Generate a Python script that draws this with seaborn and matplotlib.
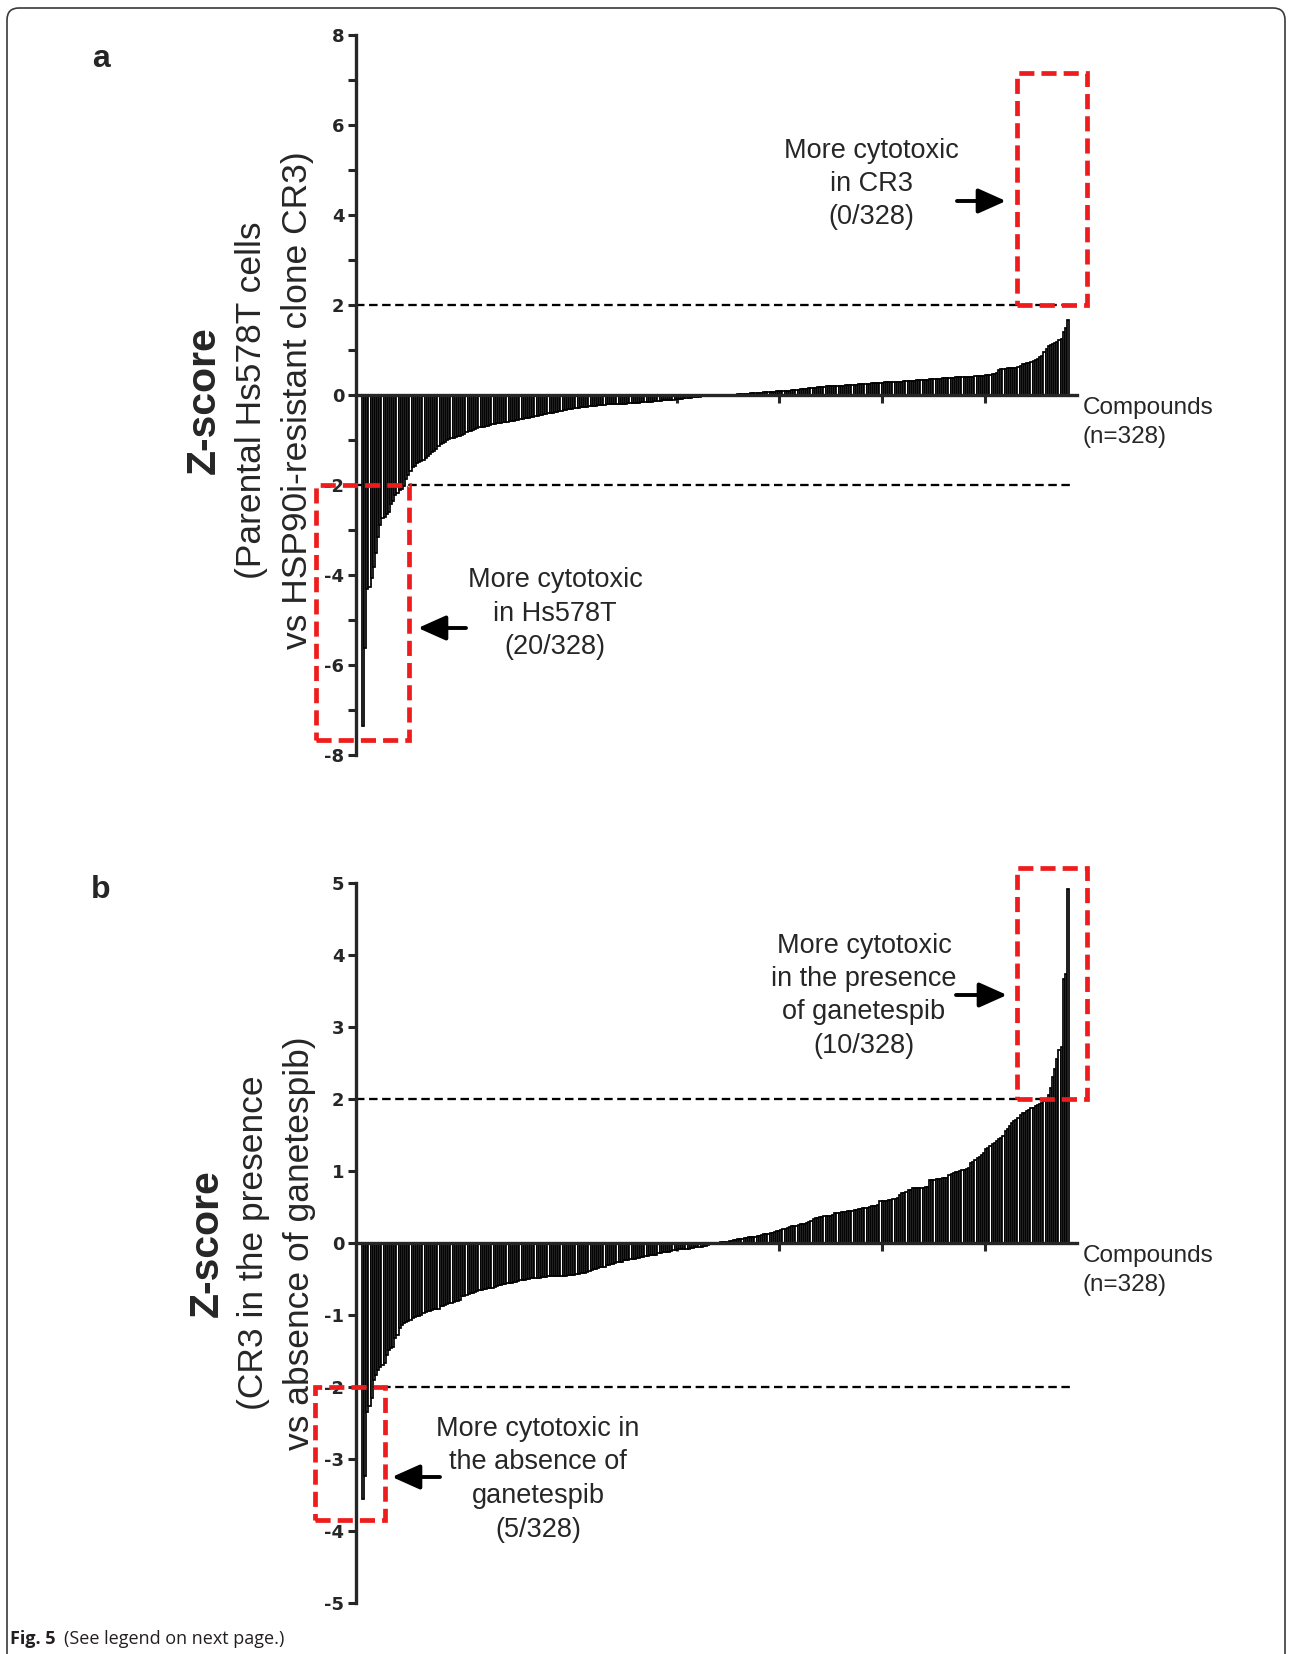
import matplotlib.pyplot as plt
import seaborn as sns
import numpy as np
import pandas as pd
from matplotlib.patches import Rectangle, FancyBboxPatch

sns.set_style('ticks')
plt.rcParams['font.family'] = ['Liberation Sans', 'DejaVu Sans']
plt.rcParams['axes.unicode_minus'] = False

# compounds ranked by z-score (n=328)
compound_rank = list(range(1, 329))

# a: parental Hs578T vs HSP90i-resistant clone CR3 (sorted)
z_parental_cr3 = [
    -7.36, -5.62, -4.31, -4.26, -4.07, -3.82, -3.52, -3.15, -2.89, -2.74,
    -2.71, -2.64, -2.61, -2.42, -2.35, -2.22, -2.18, -2.12, -2.08, -2.03,
    -1.86, -1.78, -1.68, -1.61, -1.57, -1.52, -1.49, -1.47, -1.44, -1.39,
    -1.35, -1.30, -1.27, -1.24, -1.19, -1.13, -1.09, -1.06, -1.04, -1.00,
    -0.98, -0.96, -0.95, -0.93, -0.91, -0.90, -0.88, -0.86, -0.83, -0.80,
    -0.79, -0.77, -0.76, -0.74, -0.72, -0.71, -0.70, -0.69, -0.68, -0.66,
    -0.65, -0.64, -0.63, -0.62, -0.62, -0.61, -0.60, -0.59,
    -0.58, -0.57, -0.57, -0.56, -0.55, -0.54, -0.53, -0.52,
    -0.51, -0.50, -0.49, -0.48, -0.47, -0.46, -0.45,
    -0.44, -0.43, -0.42, -0.41, -0.40, -0.39, -0.38, -0.37,
    -0.36, -0.35, -0.34, -0.33, -0.32, -0.31, -0.30, -0.29,
    -0.29, -0.28, -0.27, -0.27, -0.26, -0.26, -0.25, -0.25,
    -0.24, -0.24, -0.23, -0.23, -0.22, -0.22, -0.21,
    -0.21, -0.21, -0.20, -0.20, -0.20, -0.19, -0.19, -0.19,
    -0.19, -0.18, -0.18, -0.18, -0.17, -0.17, -0.17, -0.16,
    -0.16, -0.16, -0.15, -0.15, -0.15, -0.14, -0.14, -0.13, -0.13, -0.12, -0.12, -0.11, -0.11, -0.10, -0.10,
    -0.09, -0.09, -0.08, -0.08, -0.07, -0.07, -0.06, -0.06, -0.05, -0.05, -0.04, -0.04, -0.03, -0.03, -0.03,
    -0.02, -0.02, -0.02, -0.01, -0.01, -0.01, -0.01, 0.00, 0.00, 0.00, 0.00, 0.01, 0.01, 0.01, 0.02, 0.02,
    0.02, 0.03, 0.03, 0.03, 0.04, 0.04, 0.04, 0.05, 0.05, 0.05, 0.06, 0.06, 0.06, 0.07, 0.07,
    0.07, 0.08, 0.08, 0.08, 0.09, 0.09, 0.10, 0.10, 0.11, 0.11, 0.12, 0.12, 0.13, 0.13, 0.14, 0.14,
    0.15, 0.15, 0.16, 0.16, 0.17, 0.17, 0.18, 0.18, 0.19, 0.19, 0.19, 0.20, 0.20, 0.20, 0.21, 0.21,
    0.21, 0.22, 0.22, 0.22, 0.23, 0.23, 0.23, 0.24, 0.24, 0.24, 0.25, 0.25, 0.25, 0.26, 0.26,
    0.26, 0.27, 0.27, 0.27, 0.28, 0.28, 0.28, 0.29, 0.29, 0.29, 0.30, 0.30, 0.30, 0.31, 0.31, 0.31,
    0.32, 0.32, 0.32, 0.33, 0.33, 0.33, 0.34, 0.34, 0.34, 0.35, 0.35, 0.35, 0.36, 0.36, 0.36,
    0.37, 0.37, 0.37, 0.38, 0.38, 0.38, 0.39, 0.39, 0.39, 0.40, 0.40, 0.40, 0.41, 0.41, 0.41, 0.42,
    0.42, 0.42, 0.43, 0.43, 0.44, 0.44, 0.45, 0.46, 0.47, 0.48, 0.56,
    0.57, 0.58, 0.58, 0.59, 0.59, 0.60, 0.60, 0.61,
    0.63, 0.65,
    0.68, 0.70, 0.71, 0.72, 0.73, 0.75,
    0.78, 0.80, 0.84, 0.87,
    0.95, 1.02,
    1.10, 1.12, 1.14, 1.15, 1.17,
    1.22, 1.25,
    1.41, 1.48, 1.67,
]

# b: CR3 in the presence vs absence of ganetespib (sorted)
z_ganetespib = [
    -3.56, -3.24, -2.35, -2.27, -2.15,
    -1.90, -1.83, -1.76, -1.72, -1.69, -1.66, -1.55, -1.48, -1.46, -1.44, -1.32, -1.28, -1.18, -1.14, -1.11,
    -1.10, -1.09, -1.07, -1.04, -1.03, -1.02, -1.01, -1.00, -0.97, -0.96, -0.95, -0.94, -0.93, -0.92, -0.92, -0.91,
    -0.88, -0.87, -0.86, -0.85, -0.84, -0.83, -0.82, -0.81, -0.80, -0.79,
    -0.74, -0.73, -0.72, -0.71, -0.70, -0.69, -0.68, -0.67,
    -0.65, -0.65, -0.64, -0.64, -0.63, -0.62, -0.62, -0.61, -0.60,
    -0.58, -0.58, -0.57, -0.57, -0.56, -0.56, -0.55, -0.54, -0.54, -0.53, -0.52, -0.52,
    -0.51, -0.50, -0.50, -0.49, -0.49, -0.48, -0.48, -0.48, -0.47, -0.47, -0.47, -0.46,
    -0.46, -0.46, -0.46, -0.46, -0.46, -0.46, -0.46, -0.46, -0.45, -0.45, -0.45,
    -0.44, -0.43, -0.43, -0.42, -0.41, -0.41, -0.40, -0.39,
    -0.37, -0.36, -0.36, -0.35, -0.34, -0.34, -0.33,
    -0.30, -0.30, -0.29, -0.29, -0.28, -0.27, -0.27, -0.26,
    -0.23, -0.23, -0.23, -0.22, -0.22, -0.22, -0.21, -0.21,
    -0.19, -0.19, -0.18, -0.18, -0.17, -0.17, -0.16, -0.16,
    -0.14, -0.14, -0.13, -0.13, -0.12, -0.12, -0.11,
    -0.10, -0.10, -0.09, -0.09, -0.09, -0.08, -0.08, -0.08,
    -0.07, -0.07, -0.06, -0.06, -0.05, -0.05, -0.04, -0.04,
    -0.03, -0.02, -0.02, -0.01, -0.01, 0.00,
    0.01, 0.01, 0.02, 0.02, 0.03, 0.03, 0.04, 0.04, 0.05, 0.06,
    0.06, 0.07, 0.07, 0.08, 0.08, 0.09, 0.09, 0.10, 0.10, 0.11, 0.12, 0.12, 0.13, 0.14, 0.14, 0.15, 0.16, 0.17, 0.18, 0.19, 0.20,
    0.21, 0.22, 0.23, 0.23, 0.24, 0.25, 0.26, 0.26, 0.27, 0.28, 0.29, 0.30,
    0.34, 0.35, 0.35, 0.36, 0.36, 0.37, 0.37, 0.38, 0.38, 0.39,
    0.42, 0.42, 0.42, 0.43, 0.43, 0.43, 0.44, 0.44, 0.44,
    0.46, 0.46, 0.47, 0.47, 0.48, 0.49, 0.49, 0.50, 0.51, 0.51, 0.52, 0.53,
    0.58, 0.58, 0.59, 0.59, 0.60, 0.60, 0.61, 0.61, 0.62,
    0.67, 0.69, 0.70, 0.71, 0.73, 0.74,
    0.76, 0.76, 0.76, 0.77, 0.77, 0.77, 0.78, 0.78,
    0.88, 0.88, 0.88, 0.89, 0.89, 0.89, 0.90, 0.90, 0.90,
    0.95, 0.96, 0.97, 0.98, 0.99, 1.00, 1.01, 1.02, 1.03, 1.04,
    1.11, 1.13, 1.15, 1.18, 1.20, 1.22, 1.25,
    1.30, 1.32, 1.35, 1.37, 1.39, 1.41, 1.44,
    1.46, 1.48, 1.55, 1.58,
    1.62, 1.66, 1.69, 1.71, 1.74,
    1.78, 1.80, 1.81,
    1.83, 1.85, 1.87, 1.88, 1.90, 1.92, 1.93, 1.95, 1.97, 1.99,
    2.05, 2.15, 2.30, 2.42, 2.55, 2.68, 2.72, 3.66, 3.74, 4.92,
]

assert len(z_parental_cr3) == 328, len(z_parental_cr3)
assert len(z_ganetespib) == 328, len(z_ganetespib)

W, H = 1292, 1654
fig = plt.figure(figsize=(W / 100, H / 100), dpi=100)
RED = '#ee1c1c'


def draw_panel(top, bottom, values, ylim, major, minor, boxes):
    left, right = 356, 1077
    ax = fig.add_axes([left / W, 1 - bottom / H, (right - left) / W, (bottom - top) / H])
    ax.patch.set_alpha(0)
    df = pd.DataFrame({'compound': compound_rank, 'z': values})
    sns.barplot(data=df, x='compound', y='z', ax=ax, native_scale=True, width=1.0,
                color='white', saturation=1, edgecolor='black', linewidth=1.25,
                errorbar=None)
    ax.set_xlim(-2.28, 332.1)
    ax.set_ylim(*ylim)
    ax.set_xlabel('')
    ax.set_ylabel('')
    ax.set_axisbelow(True)

    ax.hlines([2, -2], -2.28, 329, colors='black', linestyles=(0, (3.7, 2.0)),
              linewidth=1.65, zorder=0.8)

    for spine in ['top', 'right']:
        ax.spines[spine].set_visible(False)
    ax.spines['bottom'].set_position(('data', 0))
    ax.spines['left'].set_linewidth(2.4)
    ax.spines['bottom'].set_linewidth(2.4)

    ax.set_xticks([51, 99, 146.5, 194, 241.5, 289.5])
    ax.set_xticklabels([])
    ax.set_yticks(major, labels=[str(v) for v in major])
    if minor:
        ax.set_yticks(minor, minor=True)
    ax.tick_params(axis='both', which='both', length=5.8, width=2.2, pad=2.5,
                   direction='out')

    for (x0, x1, y0, y1) in boxes:
        ax.add_patch(Rectangle((x0, y0), x1 - x0, y1 - y0, fill=False, edgecolor=RED,
                               linewidth=3.4, linestyle=(0, (3.2, 1.5)),
                               clip_on=False, zorder=5))
    return ax


ax_a = draw_panel(35, 755, z_parental_cr3, (-8, 8), list(range(-8, 9, 2)),
                  list(range(-7, 8, 2)),
                  [(304.3, 336.8, 2, 7.15), (-20.8, 22.3, -7.67, -2)])
ax_b = draw_panel(883, 1603, z_ganetespib, (-5, 5), list(range(-5, 6)), None,
                  [(304.3, 336.8, 2, 5.21), (-21.3, 11.2, -3.85, -2)])

# overlay in pixel coordinates for labels, arrows and frame
ov = fig.add_axes([0, 0, 1, 1])
ov.set_xlim(0, W)
ov.set_ylim(H, 0)
ov.axis('off')

ov.add_patch(FancyBboxPatch((7, 8), 1278, 1720, boxstyle='round,pad=0,rounding_size=12',
                            fc='none', ec='#3a3a3a', lw=1.2))

ov.text(101, 67, 'a', fontsize=23, fontweight='bold', ha='center', va='baseline')
ov.text(101, 898, 'b', fontsize=23, fontweight='bold', ha='center', va='baseline')

ylab_a = [('Z-score', 204, 29.5, 'bold'),
          ('(Parental Hs578T cells', 251, 25.5, 'normal'),
          ('vs HSP90i-resistant clone CR3)', 298, 25.5, 'normal')]
for s, x, fs, fw in ylab_a:
    ov.text(x, 400, s, rotation=90, ha='center', va='center', fontsize=fs, fontweight=fw)

ylab_b = [('Z-score', 207, 29.5, 'bold'),
          ('(CR3 in the presence', 253, 25.5, 'normal'),
          ('vs absence of ganetespib)', 299, 25.5, 'normal')]
for s, x, fs, fw in ylab_b:
    ov.text(x, 1243, s, rotation=90, ha='center', va='center', fontsize=fs, fontweight=fw)

notes = [
    (871, [('More cytotoxic', 158), ('in CR3', 191), ('(0/328)', 224)]),
    (555, [('More cytotoxic', 587), ('in Hs578T', 621), ('(20/328)', 654)]),
    (864, [('More cytotoxic', 953), ('in the presence', 986), ('of ganetespib', 1019),
           ('(10/328)', 1053)]),
    (538, [('More cytotoxic in', 1436), ('the absence of', 1469), ('ganetespib', 1503),
           ('(5/328)', 1537)]),
]
for x, lines in notes:
    for s, y in lines:
        ov.text(x, y, s, ha='center', va='baseline', fontsize=19.5)

arrows = [((957, 201), (1006, 201)), ((466, 628), (418, 628)),
          ((956, 995), (1007, 995)), ((440, 1477), (392, 1477))]
for tail, head in arrows:
    ov.annotate('', xy=head, xytext=tail,
                arrowprops=dict(arrowstyle='-|>,head_length=0.85,head_width=0.38',
                                mutation_scale=20, lw=2.8, color='black',
                                shrinkA=0, shrinkB=0))

for y0 in (0, 848):
    ov.text(1083, 414 + y0, 'Compounds', ha='left', va='baseline', fontsize=17.5)
    ov.text(1083, 443 + y0, '(n=328)', ha='left', va='baseline', fontsize=17.5)

cap_font = ['Open Sans', 'DejaVu Sans']
ov.text(10, 1644, 'Fig. 5', family=cap_font, fontweight='bold', fontsize=13,
        color='#231f20', ha='left', va='baseline')
ov.text(64, 1644, '(See legend on next page.)', family=cap_font, fontsize=13,
        color='#231f20', ha='left', va='baseline')

# heavier, wider digits for the y tick labels (GraphPad look)
fig.canvas.draw()
for ax in (ax_a, ax_b):
    for t in ax.get_yticklabels():
        t.set_family(['DejaVu Sans'])
        t.set_fontsize(13)
        t.set_fontweight('bold')

fig.savefig('out.png', dpi=100)
